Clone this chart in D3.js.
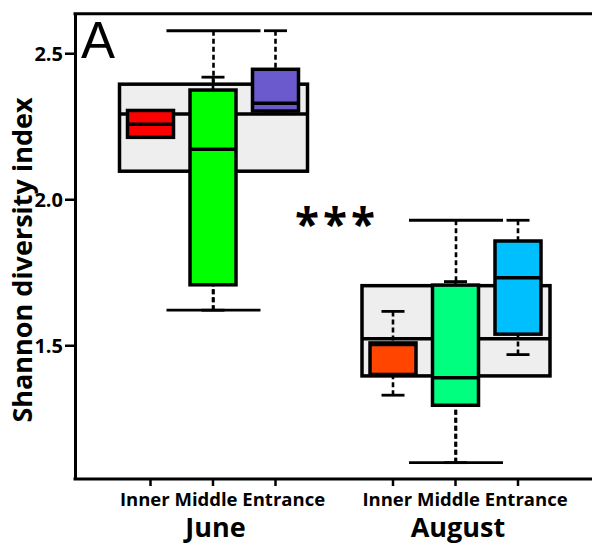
<!DOCTYPE html>
<html>
<head>
<meta charset="utf-8">
<script src="https://cdn.jsdelivr.net/npm/d3@7"></script>
<style>
  body { margin: 0; background: #fff; }
  svg { display: block; }
  .lbl { font-family: "Open Sans", sans-serif; font-weight: bold; fill: #000; }
</style>
</head>
<body>
<svg id="chart" width="592" height="545"></svg>
<script>
const months = ['June', 'August'];
const sites = ['Inner', 'Middle', 'Entrance'];
const siteColors = [['#ff0000', '#00ff00', '#6a5acd'], ['#ff4500', '#00ff7f', '#00bfff']];
const yTicks = [1.5, 2.0, 2.5];

// pooled box per month (grey)
const pooledMin = [1.62, 1.098];
const pooledQ1 = [2.096, 1.395];
const pooledMedian = [2.292, 1.522];
const pooledQ3 = [2.394, 1.704];
const pooledMax = [2.577, 1.928];

// one box per site, per month
const siteMin = [[2.212, 1.62, 2.302], [1.329, 1.098, 1.468]];
const siteQ1 = [[2.212, 1.707, 2.302], [1.400, 1.2945, 1.538]];
const siteMedian = [[2.257, 2.171, 2.329], [1.503, 1.389, 1.7315]];
const siteQ3 = [[2.304, 2.374, 2.445], [1.508, 1.706, 1.857]];
const siteMax = [[2.304, 2.418, 2.577], [1.616, 1.718, 1.928]];

const width = 592;
const plotLeft = 75;
const plotTop = 13.8;
const plotBottom = 479;

const svg = d3.select('#chart');

const y = d3.scaleLinear()
  .domain([1.042, 2.635])
  .range([plotBottom, plotTop]);

const monthX = d3.scalePoint()
  .domain(months)
  .range([213.5, 456]);

const siteX = d3.scalePoint()
  .domain(sites)
  .range([-63, 62]);

const drawBox = (g, cx, w, s, fill) => {
  // dashed whiskers, drawn from the cap inwards so overlapping ones line up
  g.append('line')
    .attr('x1', cx).attr('x2', cx)
    .attr('y1', y(s.max)).attr('y2', y(s.q3))
    .attr('stroke', '#000').attr('stroke-width', 2.6).attr('stroke-dasharray', '5,3');
  g.append('line')
    .attr('x1', cx).attr('x2', cx)
    .attr('y1', y(s.min)).attr('y2', y(s.q1))
    .attr('stroke', '#000').attr('stroke-width', 2.6).attr('stroke-dasharray', '5,3');
  // caps
  for (const v of [s.min, s.max]) {
    g.append('line')
      .attr('x1', cx - w / 4).attr('x2', cx + w / 4)
      .attr('y1', y(v)).attr('y2', y(v))
      .attr('stroke', '#000').attr('stroke-width', 2.8);
  }
  g.append('rect')
    .attr('x', cx - w / 2)
    .attr('y', y(s.q3))
    .attr('width', w)
    .attr('height', y(s.q1) - y(s.q3))
    .attr('fill', fill)
    .attr('stroke', '#000')
    .attr('stroke-width', 3.5);
  g.append('line')
    .attr('x1', cx - w / 2).attr('x2', cx + w / 2)
    .attr('y1', y(s.median)).attr('y2', y(s.median))
    .attr('stroke', '#000').attr('stroke-width', 3.5);
};

const boxes = svg.append('g');

months.forEach((m, i) => {
  drawBox(boxes.append('g'), monthX(m), 188, {
    min: pooledMin[i], q1: pooledQ1[i], median: pooledMedian[i], q3: pooledQ3[i], max: pooledMax[i]
  }, '#eeeeee');
});

months.forEach((m, i) => {
  sites.forEach((s, j) => {
    drawBox(boxes.append('g'), monthX(m) + siteX(s), 46, {
      min: siteMin[i][j], q1: siteQ1[i][j], median: siteMedian[i][j], q3: siteQ3[i][j], max: siteMax[i][j]
    }, siteColors[i][j]);
  });
});

// frame: left axis, top and bottom lines (open on the right)
const leftAxis = d3.axisLeft(y)
  .tickValues(yTicks)
  .tickFormat(d3.format('.1f'))
  .tickSize(10)
  .tickSizeOuter(0)
  .tickPadding(2);

const yAxisG = svg.append('g')
  .attr('transform', `translate(${plotLeft}, 0)`)
  .call(leftAxis);
yAxisG.select('.domain').attr('stroke-width', 3);
yAxisG.selectAll('.tick line').attr('stroke-width', 2.5);
yAxisG.selectAll('.tick text')
  .attr('class', 'lbl')
  .style('font-size', '20px')
  .attr('dy', '0.36em');

svg.append('line')
  .attr('x1', plotLeft - 1.5).attr('x2', width)
  .attr('y1', plotTop).attr('y2', plotTop)
  .attr('stroke', '#000').attr('stroke-width', 3);
svg.append('line')
  .attr('x1', plotLeft - 1.5).attr('x2', width)
  .attr('y1', plotBottom).attr('y2', plotBottom)
  .attr('stroke', '#000').attr('stroke-width', 3);

// bottom ticks
const tickPos = [];
months.forEach((m) => sites.forEach((s) => tickPos.push(monthX(m) + siteX(s))));
svg.append('g')
  .selectAll('line')
  .data(tickPos)
  .enter()
  .append('line')
  .attr('x1', (d) => d).attr('x2', (d) => d)
  .attr('y1', plotBottom).attr('y2', plotBottom + 7)
  .attr('stroke', '#000').attr('stroke-width', 2.5);

svg.append('g')
  .selectAll('text')
  .data(months)
  .enter()
  .append('text')
  .attr('class', 'lbl')
  .attr('x', (d) => monthX(d) + 9)
  .attr('y', 506)
  .attr('text-anchor', 'middle')
  .style('font-size', '18.5px')
  .text(sites.join(' '));

svg.append('g')
  .selectAll('text')
  .data(months)
  .enter()
  .append('text')
  .attr('class', 'lbl')
  .attr('x', (d) => monthX(d) + 2)
  .attr('y', 537)
  .attr('text-anchor', 'middle')
  .style('font-size', '27px')
  .text((d) => d);

// y title
svg.append('text')
  .attr('class', 'lbl')
  .attr('transform', `translate(32, 260) rotate(-90)`)
  .attr('text-anchor', 'middle')
  .style('font-size', '27px')
  .text('Shannon diversity index');

// panel letter
svg.append('text')
  .attr('x', 81)
  .attr('y', 58)
  .style('font-family', '"Liberation Sans", Arial, sans-serif')
  .style('font-size', '51px')
  .text('A');

// significance
svg.append('text')
  .attr('class', 'lbl')
  .attr('x', 337)
  .attr('y', 240)
  .attr('text-anchor', 'middle')
  .style('font-size', '44px')
  .style('letter-spacing', '4px')
  .text('***');
</script>
</body>
</html>
